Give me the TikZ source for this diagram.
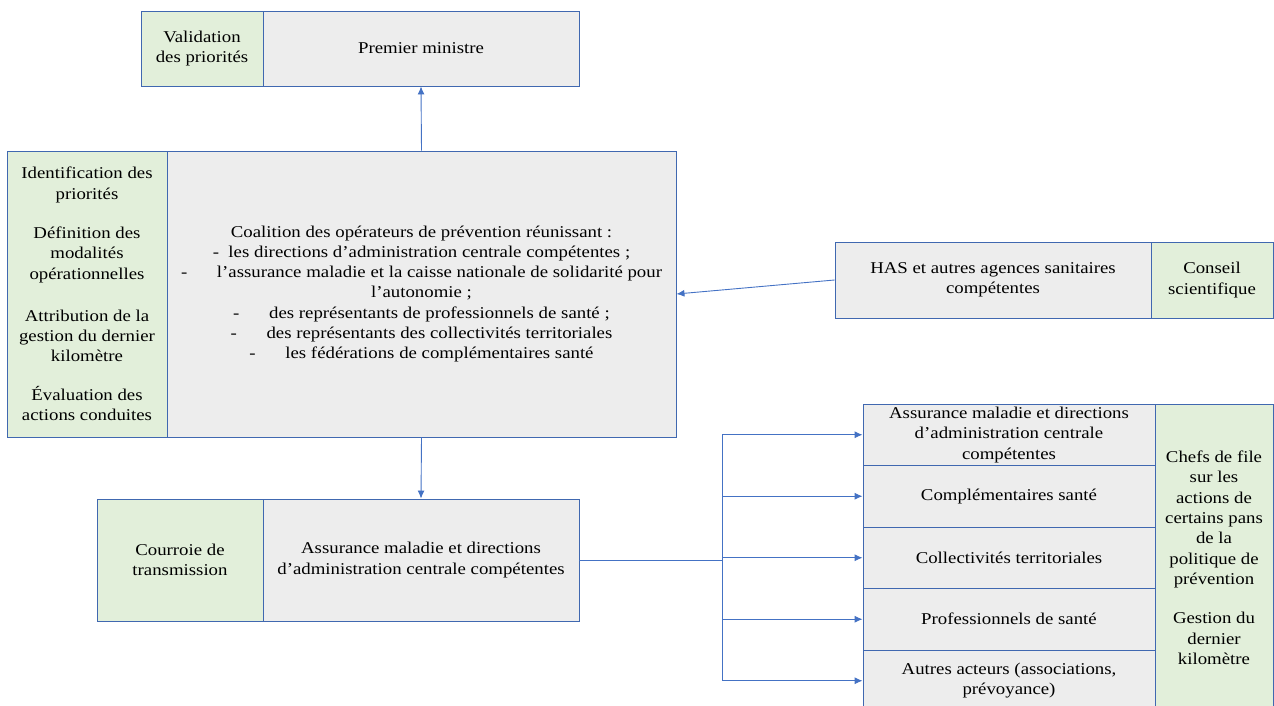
\documentclass[tikz,border=0pt]{standalone}
\usepackage{fontspec}
\setmainfont{Liberation Serif}[FakeStretch=1.14]
\usetikzlibrary{arrows.meta}
\definecolor{boxline}{HTML}{4068B0}
\definecolor{arrowblue}{HTML}{4472C4}
\definecolor{greyfill}{HTML}{EDEDED}
\definecolor{greenfill}{HTML}{E2EFDA}

\begin{document}
\begin{tikzpicture}[x=1pt,y=1pt,
    every node/.style={font=\fontsize{16.5}{20.3}\selectfont, align=center, inner sep=2pt},
    greybox/.style={draw=boxline, fill=greyfill, line width=0.9pt},
    greenbox/.style={draw=boxline, fill=greenfill, line width=0.9pt},
    link/.style={draw=arrowblue, line width=0.9pt},
    arrow/.style={link, -{Latex[length=8pt,width=7pt]}}]
            \useasboundingbox (0,0) rectangle (1274,-706);

            % Top level
            \node[greenbox, minimum width=122pt, minimum height=75pt] (valid) at (202,-48.5) {Validation\\des priorités};
            \node[greybox, minimum width=316pt, minimum height=75pt] (pm) at (421,-48.5) {Premier ministre};

            % Coalition
            \node[greenbox, minimum width=160pt, minimum height=286pt] (tasks) at (87,-294)
                {Identification des\\priorités\\[19pt]
                 Définition des\\modalités\\opérationnelles\\[22pt]
                 Attribution de la\\gestion du dernier\\kilomètre\\[18pt]
                 Évaluation des\\actions conduites};
            \node[greybox, minimum width=509pt, minimum height=286pt] (coal) at (421.5,-294)
                {Coalition des opérateurs de prévention réunissant :\\
                 -~~les directions d’administration centrale compétentes ;\\
                 -\hspace{1.8em}l’assurance maladie et la caisse nationale de solidarité pour\\
                 l’autonomie ;\\
                 -\hspace{1.8em}des représentants de professionnels de santé ;\\
                 -\hspace{1.8em}des représentants des collectivités territoriales\\
                 -\hspace{1.8em}les fédérations de complémentaires santé};

            % Agencies
            \node[greybox, minimum width=316pt, minimum height=76pt] (has) at (993,-280)
                {HAS et autres agences sanitaires\\compétentes};
            \node[greenbox, minimum width=122pt, minimum height=76pt] (conseil) at (1212,-280)
                {Conseil\\scientifique};

            % Transmission
            \node[greenbox, minimum width=166pt, minimum height=122pt] (courroie) at (180,-560)
                {Courroie de\\transmission};
            \node[greybox, minimum width=316pt, minimum height=122pt] (assur) at (421,-560)
                {Assurance maladie et directions\\d’administration centrale compétentes};

            % Lead actors
            \node[greybox, minimum width=292pt, minimum height=61.5pt] (r1) at (1009,-434.75)
                {Assurance maladie et directions\\d’administration centrale\\compétentes};
            \node[greybox, minimum width=292pt, minimum height=61.5pt] (r2) at (1009,-496.25) {Complémentaires santé};
            \node[greybox, minimum width=292pt, minimum height=61.5pt] (r3) at (1009,-557.75) {Collectivités territoriales};
            \node[greybox, minimum width=292pt, minimum height=61.5pt] (r4) at (1009,-619.25) {Professionnels de santé};
            \node[greybox, minimum width=292pt, minimum height=61.5pt] (r5) at (1009,-680.75)
                {Autres acteurs (associations,\\prévoyance)};
            \node[greenbox, minimum width=118pt, minimum height=307.5pt] (chefs) at (1214,-557.75)
                {Chefs de file\\sur les\\actions de\\certains pans\\de la\\politique de\\prévention\\[19pt]
                 Gestion du\\dernier\\kilomètre};

            % Arrows
            \draw[arrow] (coal.north) -- (pm.south);
            \draw[arrow] (has.west) -- (coal.east);
            \draw[arrow] (coal.south) -- (assur.north);

            \coordinate (trunk) at (722,-560);
            \draw[link] (assur.east) -- (trunk);
            \draw[link] (trunk |- r1.west) -- (trunk |- r5.west);
            \foreach \r in {r1,r2,r3,r4,r5}
            {
                \draw[arrow] (trunk |- \r.west) -- (\r.west);
            }
        \end{tikzpicture}
\end{document}
